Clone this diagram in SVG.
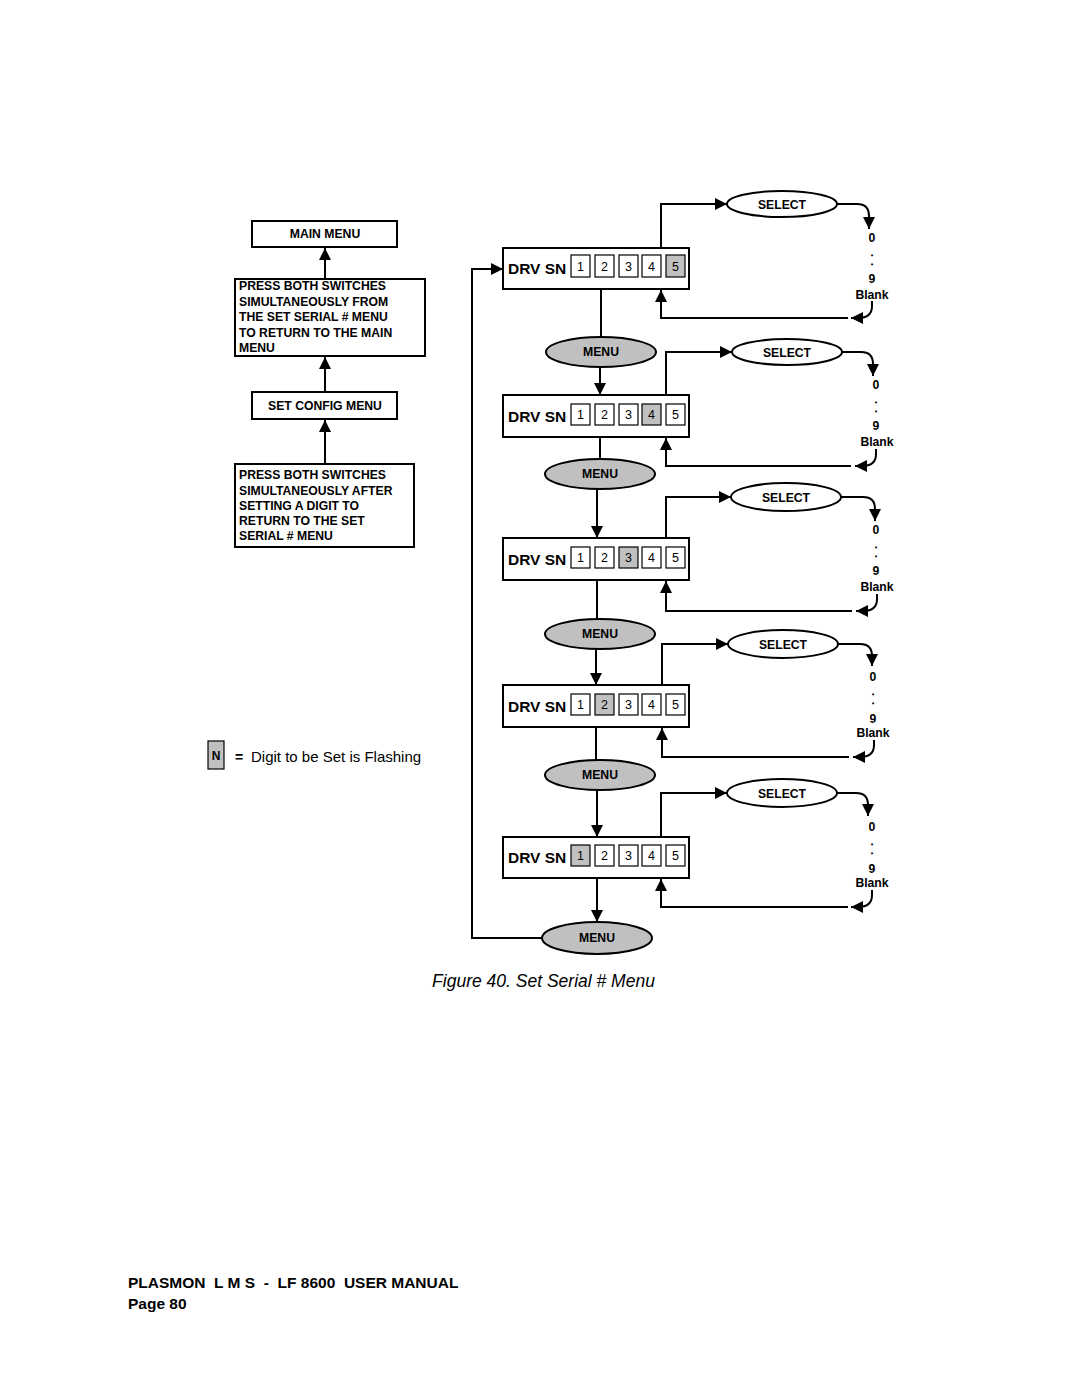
<svg xmlns="http://www.w3.org/2000/svg" width="1080" height="1397" viewBox="0 0 1080 1397">
<style>
.ln{fill:none;stroke:#000;stroke-width:2}
.bx{fill:#fff;stroke:#000;stroke-width:2}
.dg{fill:#fff;stroke:#000;stroke-width:1.2}
.dgs{fill:#c0c0c0;stroke:#000;stroke-width:1.2}
.me{fill:#c0c0c0;stroke:#000;stroke-width:2}
.se{fill:#fff;stroke:#000;stroke-width:2}
.t{font-family:"Liberation Sans",Arial,sans-serif;font-weight:bold;fill:#000}
.drv{font-size:15.5px}
.sm{font-size:12.2px}
.dot{font-size:7.5px;stroke:#000;stroke-width:0.7}
.dt{font-family:"Liberation Sans",Arial,sans-serif;font-size:12.5px;fill:#000;text-anchor:middle}
.c{text-anchor:middle}
</style>
<defs>
<marker id="ah" markerUnits="userSpaceOnUse" markerWidth="14" markerHeight="14" refX="12" refY="6" orient="auto">
<path d="M0,0 L12,6 L0,12 Z" fill="#000"/>
</marker>
</defs>

<g id="connectors">
<path class="ln" d="M325,278 V248" marker-end="url(#ah)"/>
<path class="ln" d="M325,392 V357" marker-end="url(#ah)"/>
<path class="ln" d="M325,463 V420" marker-end="url(#ah)"/>
<path class="ln" d="M601,289 V337"/>
<path class="ln" d="M600,367 V395" marker-end="url(#ah)"/>
<path class="ln" d="M600,437 V459"/>
<path class="ln" d="M597,489 V538" marker-end="url(#ah)"/>
<path class="ln" d="M597,580 V619"/>
<path class="ln" d="M596,649 V685" marker-end="url(#ah)"/>
<path class="ln" d="M596,727 V760"/>
<path class="ln" d="M597,790 V837" marker-end="url(#ah)"/>
<path class="ln" d="M597,878 V922" marker-end="url(#ah)"/>
<path class="ln" d="M542,938 H472 V269 H503" marker-end="url(#ah)"/>
<path class="ln" d="M661,248 V204 H727" marker-end="url(#ah)"/>
<path class="ln" d="M837,204 H857 Q869,204 869,216 V229" marker-end="url(#ah)"/>
<path class="ln" d="M872,301 V306 Q872,318 858,318 H851" marker-end="url(#ah)"/>
<path class="ln" d="M848,318 H661 V290" marker-end="url(#ah)"/>
<path class="ln" d="M666,395 V352 H732" marker-end="url(#ah)"/>
<path class="ln" d="M842,352 H861 Q873,352 873,364 V376" marker-end="url(#ah)"/>
<path class="ln" d="M876,449 V454 Q876,466 862,466 H855" marker-end="url(#ah)"/>
<path class="ln" d="M851,466 H666 V438" marker-end="url(#ah)"/>
<path class="ln" d="M666,538 V497 H731" marker-end="url(#ah)"/>
<path class="ln" d="M841,497 H863 Q875,497 875,509 V521" marker-end="url(#ah)"/>
<path class="ln" d="M877,594 V599 Q877,611 863,611 H856" marker-end="url(#ah)"/>
<path class="ln" d="M852,611 H666 V581" marker-end="url(#ah)"/>
<path class="ln" d="M662,685 V644 H728" marker-end="url(#ah)"/>
<path class="ln" d="M838,644 H860 Q872,644 872,656 V666" marker-end="url(#ah)"/>
<path class="ln" d="M874,740 V745 Q874,757 860,757 H853" marker-end="url(#ah)"/>
<path class="ln" d="M849,757 H662 V728" marker-end="url(#ah)"/>
<path class="ln" d="M661,837 V793 H727" marker-end="url(#ah)"/>
<path class="ln" d="M837,793 H856 Q868,793 868,805 V816" marker-end="url(#ah)"/>
<path class="ln" d="M872,890 V895 Q872,907 858,907 H851" marker-end="url(#ah)"/>
<path class="ln" d="M848,907 H661 V879" marker-end="url(#ah)"/>
</g>

<g id="main-menu">
<rect class="bx" x="252" y="221" width="145" height="26"/>
<text class="t sm c" x="325" y="238">MAIN MENU</text>
</g>
<g id="press-1">
<rect class="bx" x="235" y="279" width="190" height="77"/>
<text class="t sm" x="239" y="290">PRESS BOTH SWITCHES</text>
<text class="t sm" x="239" y="305.5">SIMULTANEOUSLY FROM</text>
<text class="t sm" x="239" y="321">THE SET SERIAL # MENU</text>
<text class="t sm" x="239" y="336.5">TO RETURN TO THE MAIN</text>
<text class="t sm" x="239" y="352">MENU</text>
</g>
<g id="set-config">
<rect class="bx" x="252" y="392" width="145" height="27"/>
<text class="t sm c" x="325" y="409.5">SET CONFIG MENU</text>
</g>
<g id="press-2">
<rect class="bx" x="235" y="464" width="179" height="83"/>
<text class="t sm" x="239" y="479">PRESS BOTH SWITCHES</text>
<text class="t sm" x="239" y="494.5">SIMULTANEOUSLY AFTER</text>
<text class="t sm" x="239" y="510">SETTING A DIGIT TO</text>
<text class="t sm" x="239" y="525">RETURN TO THE SET</text>
<text class="t sm" x="239" y="540">SERIAL # MENU</text>
</g>

<g id="legend">
<rect class="dgs" x="208" y="741" width="16" height="28"/>
<text class="t c" x="216" y="760" font-size="12">N</text>
<text class="t c" x="239" y="762" font-size="14">=</text>
<text x="251" y="761.5" font-family="Liberation Sans, Arial, sans-serif" font-size="15" fill="#000">Digit to be Set is Flashing</text>
</g>

<g id="drv-1">
<rect class="bx" x="503" y="248" width="186" height="41"/>
<text class="t drv" x="508" y="274">DRV SN</text>
<rect class="dg" x="571" y="255" width="19" height="22"/><text class="dt" x="580.5" y="271">1</text>
<rect class="dg" x="595" y="255" width="19" height="22"/><text class="dt" x="604.5" y="271">2</text>
<rect class="dg" x="619" y="255" width="19" height="22"/><text class="dt" x="628.5" y="271">3</text>
<rect class="dg" x="642" y="255" width="19" height="22"/><text class="dt" x="651.5" y="271">4</text>
<rect class="dgs" x="666" y="255" width="19" height="22"/><text class="dt" x="675.5" y="271">5</text>
</g>
<g id="drv-2">
<rect class="bx" x="503" y="395" width="186" height="42"/>
<text class="t drv" x="508" y="422">DRV SN</text>
<rect class="dg" x="571" y="404" width="19" height="21"/><text class="dt" x="580.5" y="419">1</text>
<rect class="dg" x="595" y="404" width="19" height="21"/><text class="dt" x="604.5" y="419">2</text>
<rect class="dg" x="619" y="404" width="19" height="21"/><text class="dt" x="628.5" y="419">3</text>
<rect class="dgs" x="642" y="404" width="19" height="21"/><text class="dt" x="651.5" y="419">4</text>
<rect class="dg" x="666" y="404" width="19" height="21"/><text class="dt" x="675.5" y="419">5</text>
</g>
<g id="drv-3">
<rect class="bx" x="503" y="538" width="186" height="42"/>
<text class="t drv" x="508" y="565">DRV SN</text>
<rect class="dg" x="571" y="547" width="19" height="21"/><text class="dt" x="580.5" y="562">1</text>
<rect class="dg" x="595" y="547" width="19" height="21"/><text class="dt" x="604.5" y="562">2</text>
<rect class="dgs" x="619" y="547" width="19" height="21"/><text class="dt" x="628.5" y="562">3</text>
<rect class="dg" x="642" y="547" width="19" height="21"/><text class="dt" x="651.5" y="562">4</text>
<rect class="dg" x="666" y="547" width="19" height="21"/><text class="dt" x="675.5" y="562">5</text>
</g>
<g id="drv-4">
<rect class="bx" x="503" y="685" width="186" height="42"/>
<text class="t drv" x="508" y="712">DRV SN</text>
<rect class="dg" x="571" y="694" width="19" height="21"/><text class="dt" x="580.5" y="709">1</text>
<rect class="dgs" x="595" y="694" width="19" height="21"/><text class="dt" x="604.5" y="709">2</text>
<rect class="dg" x="619" y="694" width="19" height="21"/><text class="dt" x="628.5" y="709">3</text>
<rect class="dg" x="642" y="694" width="19" height="21"/><text class="dt" x="651.5" y="709">4</text>
<rect class="dg" x="666" y="694" width="19" height="21"/><text class="dt" x="675.5" y="709">5</text>
</g>
<g id="drv-5">
<rect class="bx" x="503" y="837" width="186" height="41"/>
<text class="t drv" x="508" y="863">DRV SN</text>
<rect class="dgs" x="571" y="845" width="19" height="21"/><text class="dt" x="580.5" y="860">1</text>
<rect class="dg" x="595" y="845" width="19" height="21"/><text class="dt" x="604.5" y="860">2</text>
<rect class="dg" x="619" y="845" width="19" height="21"/><text class="dt" x="628.5" y="860">3</text>
<rect class="dg" x="642" y="845" width="19" height="21"/><text class="dt" x="651.5" y="860">4</text>
<rect class="dg" x="666" y="845" width="19" height="21"/><text class="dt" x="675.5" y="860">5</text>
</g>

<g id="menu-1"><ellipse class="me" cx="601" cy="352" rx="55" ry="15"/><text class="t sm c" x="601" y="356">MENU</text></g>
<g id="menu-2"><ellipse class="me" cx="600" cy="474" rx="55" ry="15"/><text class="t sm c" x="600" y="478">MENU</text></g>
<g id="menu-3"><ellipse class="me" cx="600" cy="634" rx="55" ry="15"/><text class="t sm c" x="600" y="638">MENU</text></g>
<g id="menu-4"><ellipse class="me" cx="600" cy="775" rx="55" ry="15"/><text class="t sm c" x="600" y="779">MENU</text></g>
<g id="menu-5"><ellipse class="me" cx="597" cy="938" rx="55" ry="16"/><text class="t sm c" x="597" y="942">MENU</text></g>

<g id="select-1"><ellipse class="se" cx="782" cy="204" rx="55" ry="13"/><text class="t sm c" x="782" y="208.5">SELECT</text></g>
<g id="select-2"><ellipse class="se" cx="787" cy="352" rx="55" ry="13"/><text class="t sm c" x="787" y="356.5">SELECT</text></g>
<g id="select-3"><ellipse class="se" cx="786" cy="497" rx="55" ry="14"/><text class="t sm c" x="786" y="501.5">SELECT</text></g>
<g id="select-4"><ellipse class="se" cx="783" cy="644" rx="55" ry="14"/><text class="t sm c" x="783" y="648.5">SELECT</text></g>
<g id="select-5"><ellipse class="se" cx="782" cy="793" rx="55" ry="14"/><text class="t sm c" x="782" y="797.5">SELECT</text></g>

<g id="values-1">
<text class="t sm c" x="872" y="241.5">0</text>
<text class="t dot c" x="872" y="256">.</text>
<text class="t dot c" x="872" y="265">.</text>
<text class="t sm c" x="872" y="282.5">9</text>
<text class="t sm c" x="872" y="298.5">Blank</text>
</g>
<g id="values-2">
<text class="t sm c" x="876" y="388.5">0</text>
<text class="t dot c" x="876" y="403">.</text>
<text class="t dot c" x="876" y="412">.</text>
<text class="t sm c" x="876" y="429.5">9</text>
<text class="t sm c" x="877" y="445.5">Blank</text>
</g>
<g id="values-3">
<text class="t sm c" x="876" y="533.5">0</text>
<text class="t dot c" x="876" y="548">.</text>
<text class="t dot c" x="876" y="557">.</text>
<text class="t sm c" x="876" y="574.5">9</text>
<text class="t sm c" x="877" y="590.5">Blank</text>
</g>
<g id="values-4">
<text class="t sm c" x="873" y="680.5">0</text>
<text class="t dot c" x="873" y="695">.</text>
<text class="t dot c" x="873" y="704">.</text>
<text class="t sm c" x="873" y="722.5">9</text>
<text class="t sm c" x="873" y="736.5">Blank</text>
</g>
<g id="values-5">
<text class="t sm c" x="872" y="830.5">0</text>
<text class="t dot c" x="872" y="845">.</text>
<text class="t dot c" x="872" y="854">.</text>
<text class="t sm c" x="872" y="872.5">9</text>
<text class="t sm c" x="872" y="886.5">Blank</text>
</g>

<text x="543.5" y="987" font-family="Liberation Sans, Arial, sans-serif" font-size="17.5" font-style="italic" text-anchor="middle" fill="#000">Figure 40. Set Serial # Menu</text>

<text class="t" x="128" y="1288" font-size="15.5" style="white-space:pre">PLASMON  L M S  -  LF 8600  USER MANUAL</text>
<text class="t" x="128" y="1309" font-size="15.5">Page 80</text>
</svg>
